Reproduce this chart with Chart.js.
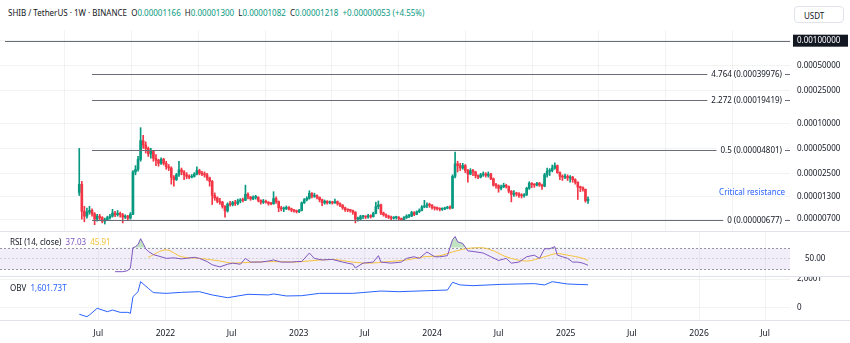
<!DOCTYPE html>
<html>
<head>
<meta charset="utf-8">
<script src="https://cdn.jsdelivr.net/npm/chart.js@4.4.1/dist/chart.umd.min.js"></script>
<style>
  body { margin: 0; width: 850px; height: 343px; background: #fff; overflow: hidden; position: relative; font-family: "Noto Sans", sans-serif; }
  canvas { position: absolute; left: 0; }
  .txt { position: absolute; font-size: 8px; color: #131722; white-space: pre; line-height: 10px; }
  .sep { position: absolute; left: 0; width: 850px; height: 1px; background: #e0e3eb; }
  #usdt { position: absolute; left: 794px; top: 6px; width: 50px; height: 17px; border: 1px solid #e0e3eb; border-radius: 4px; box-sizing: border-box; font-size: 8px; color: #131722; padding: 3px 0 0 9px; }
</style>
</head>
<body>
<div id="header" class="txt" style="left:8px; top:8px;"></div>
<div id="usdt">USDT</div>
<canvas id="priceChart" width="850" height="201" style="top:30px"></canvas>
<canvas id="rsiChart" width="850" height="45" style="top:232px"></canvas>
<canvas id="obvChart" width="850" height="66" style="top:277px"></canvas>
<div class="sep" style="top:231px"></div>
<div class="sep" style="top:276px"></div>
<div class="sep" style="top:320px"></div>
<div id="rsiLegend" class="txt" style="left:10px; top:237px;"></div>
<div id="obvLegend" class="txt" style="left:10px; top:283px;"></div>
<script>
// SHIB / USDT weekly candles, prices in micro-USDT (x 1e-6), first week 2021-05-10
const UNIT = 1e-6;
const startDate = '2021-05-10';

const opens = [
  14.7, 18.4, 8.7, 7.6, 8.5, 8.9, 8.1, 7.0, 7.6, 7.3,
  6.6, 6.9, 7.3, 7.6, 8.3, 7.9, 8.2, 7.9, 7.4, 7.6,
  7.2, 8.0, 26.0, 27.9, 36.8, 62, 55, 50, 43, 46,
  38, 36, 33, 37, 33, 30, 29, 22.4, 21, 24,
  27.5, 26, 24, 23, 22.5, 23, 24.5, 27, 25, 24.5,
  24, 22, 20, 13.5, 12.6, 11.5, 11.2, 10.0, 8.8, 10.6,
  10.5, 11.1, 10.8, 11.6, 11.9, 11.8, 14.0, 12.9, 12.3, 12.8,
  12.9, 11.8, 11.2, 11.5, 11.2, 10.8, 10.7, 12.4, 11.4, 9.6,
  9.3, 9.4, 9.7, 9.3, 9.0, 8.8, 8.6, 8.9, 11.0, 12.0,
  12.5, 14.3, 13.2, 13.5, 12.8, 12.0, 11.0, 11.5, 11.0, 11.2,
  11.0, 11.4, 10.8, 10.3, 9.6, 9.1, 9.0, 8.9, 8.5, 7.0,
  7.0, 7.5, 7.5, 7.4, 7.7, 7.5, 8.2, 9.9, 10.4, 8.3,
  7.9, 7.6, 7.4, 7.2, 7.3, 7.3, 7.1, 6.9, 7.3, 7.6,
  7.6, 8.4, 8.0, 8.6, 8.9, 9.8, 10.1, 10.4, 10.3, 9.7,
  9.5, 9.4, 9.2, 9.3, 9.5, 9.7, 9.5, 23.0, 32.5, 31,
  29, 31, 27, 24.5, 27, 26, 23.5, 22.5, 24, 24.5,
  23.6, 24.5, 21.5, 18, 17.8, 16.5, 17.2, 17.9, 17.3, 15.2,
  13.9, 14.2, 14.1, 13.5, 13.4, 13.7, 16.5, 19.0, 18.3, 18.0,
  19.0, 18.0, 17.5, 24.0, 26.5, 27, 29, 31, 25.5, 23.0,
  22.5, 23.0, 22.0, 22.5, 21.0, 19.5, 17.0, 16.8, 16.0, 11.66
];
const highs = [
  50, 20, 10.0, 9.5, 10.0, 9.3, 8.4, 8.0, 8.0, 7.5,
  7.2, 7.6, 8.0, 9.2, 8.7, 8.9, 8.5, 8.2, 7.9, 7.8,
  8.4, 27, 31, 40, 89, 72, 60, 52, 50, 47,
  42, 37, 38.5, 38, 35, 32, 30, 23.5, 25, 35,
  29, 27, 25.5, 24, 24.2, 25.5, 30, 28, 26.5, 26,
  25, 22.5, 20.5, 14.5, 13, 12.5, 11.5, 10.2, 11, 11.5,
  11.5, 11.8, 12.2, 12.4, 12.6, 18.0, 14.5, 13.2, 13.4, 13.6,
  13.0, 12.0, 12.1, 11.9, 11.4, 11.2, 15.0, 13.0, 11.6, 10.0,
  9.8, 10.1, 9.9, 9.5, 9.2, 9.0, 9.2, 11.3, 12.4, 13.0,
  15.4, 14.6, 14.4, 13.8, 13.0, 12.2, 11.9, 11.7, 11.6, 11.5,
  12.2, 11.6, 11.0, 10.5, 9.8, 9.3, 9.2, 9.0, 8.6, 7.4,
  7.8, 7.8, 7.7, 8.0, 7.9, 8.5, 11.2, 11.6, 10.6, 8.5,
  8.1, 7.8, 7.6, 7.5, 7.6, 7.5, 7.2, 7.5, 7.9, 8.0,
  8.7, 8.6, 8.8, 9.3, 10.2, 11.8, 11.0, 10.9, 10.5, 9.9,
  9.8, 9.6, 9.6, 9.8, 10.0, 10.1, 24, 45, 35, 33,
  33, 32, 28, 28.5, 28, 26.5, 24, 25, 26, 25.5,
  26, 25, 22, 19, 18.2, 18, 19, 18.5, 17.6, 15.5,
  15.5, 14.8, 14.6, 14.2, 14.2, 17.0, 19.8, 19.3, 18.8, 19.5,
  19.4, 18.5, 25, 29, 28.5, 31.5, 33.5, 31.5, 26, 24,
  24.5, 24, 23.5, 23, 21.5, 19.8, 17.5, 17.2, 16.2, 13.0
];
const lows = [
  13.5, 7.0, 6.5, 7.2, 8.0, 7.6, 6.0, 6.6, 6.9, 6.3,
  6.1, 6.7, 7.0, 7.4, 7.5, 7.6, 7.4, 6.3, 7.1, 6.9,
  7.0, 7.9, 24, 26.5, 35, 50, 44, 40, 38, 35,
  31, 30.5, 32, 31.5, 28, 27, 18.5, 17.5, 20.5, 23,
  24, 21, 21.5, 21.5, 22, 22.5, 24, 24, 23.5, 22.5,
  20.5, 17.5, 10.5, 11.8, 11, 10.5, 9.5, 7.4, 8.5, 10.0,
  10.1, 10.2, 10.4, 11.0, 11.3, 11.7, 12.3, 11.8, 12.0, 12.2,
  11.3, 10.6, 10.8, 10.9, 10.3, 10.4, 10.6, 10.8, 8.6, 8.8,
  8.6, 9.1, 9.0, 8.6, 8.5, 8.3, 8.4, 8.8, 10.8, 11.6,
  12.2, 12.6, 12.8, 12.3, 11.3, 10.2, 10.6, 10.6, 10.7, 10.6,
  10.8, 10.3, 9.9, 9.2, 8.7, 8.6, 8.5, 8.0, 6.3, 6.6,
  6.9, 7.1, 7.1, 7.2, 7.2, 7.4, 8.1, 9.3, 7.9, 7.6,
  7.3, 7.1, 6.9, 7.0, 7.0, 6.8, 6.7, 6.8, 7.1, 7.3,
  7.5, 7.7, 7.9, 8.4, 8.8, 9.6, 9.6, 9.7, 9.2, 9.0,
  9.0, 8.8, 8.9, 9.1, 9.3, 9.2, 9.4, 22, 26, 27,
  28, 25.5, 19.5, 24, 23.5, 22, 21.5, 22, 23, 22.5,
  22.5, 21, 17.5, 16.5, 14.8, 15.8, 16.8, 16.6, 14.5, 11.3,
  13.2, 13.3, 12.8, 12.6, 12.9, 13.5, 16.0, 16.8, 16.9, 17.6,
  17.4, 16.0, 17.2, 22.5, 23.5, 26, 28, 25, 21, 20.5,
  21.5, 20.5, 19.5, 19.5, 18.5, 12.1, 15.0, 15.2, 11.2, 10.82
];
const closes = [
  18.4, 8.7, 7.6, 8.5, 8.9, 8.1, 7.0, 7.6, 7.3, 6.6,
  6.9, 7.3, 7.6, 8.3, 7.9, 8.2, 7.9, 7.4, 7.6, 7.2,
  8.0, 26.0, 27.9, 36.8, 62, 55, 50, 43, 46, 38,
  36, 33, 37, 33, 30, 29, 22.4, 21, 24, 27.5,
  26, 24, 23, 22.5, 23, 24.5, 27, 25, 24.5, 24,
  22, 20, 13.5, 12.6, 11.5, 11.2, 10.0, 8.8, 10.6, 10.5,
  11.1, 10.8, 11.6, 11.9, 11.8, 14.0, 12.9, 12.3, 12.8, 12.9,
  11.8, 11.2, 11.5, 11.2, 10.8, 10.7, 12.4, 11.4, 9.6, 9.3,
  9.4, 9.7, 9.3, 9.0, 8.8, 8.6, 8.9, 11.0, 12.0, 12.5,
  14.3, 13.2, 13.5, 12.8, 12.0, 11.0, 11.5, 11.0, 11.2, 11.0,
  11.4, 10.8, 10.3, 9.6, 9.1, 9.0, 8.9, 8.5, 7.0, 7.0,
  7.5, 7.5, 7.4, 7.7, 7.5, 8.2, 9.9, 10.4, 8.3, 7.9,
  7.6, 7.4, 7.2, 7.3, 7.3, 7.1, 6.9, 7.3, 7.6, 7.6,
  8.4, 8.0, 8.6, 8.9, 9.8, 10.1, 10.4, 10.3, 9.7, 9.5,
  9.4, 9.2, 9.3, 9.5, 9.7, 9.5, 23.0, 32.5, 31, 29,
  31, 27, 24.5, 27, 26, 23.5, 22.5, 24, 24.5, 23.6,
  24.5, 21.5, 18, 17.8, 16.5, 17.2, 17.9, 17.3, 15.2, 13.9,
  14.2, 14.1, 13.5, 13.4, 13.7, 16.5, 19.0, 18.3, 18.0, 19.0,
  18.0, 17.5, 24.0, 26.5, 27, 29, 31, 25.5, 23.0, 22.5,
  23.0, 22.0, 22.5, 21.0, 19.5, 17.0, 16.8, 16.0, 11.65, 12.18
];

const rsiWeeks = [14,17,19,20,21,22,23,24,25,26,27,29,32,34,37,40,42,45,47,50,52,55,58,60,63,65,67,71,74,76,79,83,85,87,90,92,95,99,103,107,108,111,115,117,118,122,126,128,131,133,136,139,141,144,146,147,148,150,152,154,158,161,164,167,169,172,175,178,180,182,184,186,187,189,191,193,195,197,199];
const rsiValues = [25,25,27,32,70,72,76,87,78,68,63,57,53,50,51,49,50,52,50,44,38,34,39,41,39,50,43,43,45,47,43,43,44,44,60,50,47,48,43,39,32,41,43,55,43,41,43,50,53,50,62,53,53,55,85,91,81,78,64,63,60,53,46,50,41,43,53,56,50,68,68,72,56,53,50,43,43,41,37.03];
const maWeeks = [27,34,40,47,55,60,68,76,84,87,99,107,113,121,128,135,141,146,151,157,161,167,175,182,187,191,197,199];
const maValues = [52,66,53,50,45,41,43,44,43,44,48,43,41,44,47,53,55,62,68,70,66,53,45,53,59,56,50,45.91];

// OBV in trillions
const obvWeeks = [0,3,4,7,11,13,16,19,20,21,23,24,27,29,34,40,47,52,58,66,74,76,81,87,94,107,118,125,144,146,149,154,165,178,182,185,191,199];
const obvValues = [-430,-600,-480,-20,-255,-140,-300,-300,-370,780,1125,1815,1355,1060,1010,1080,1125,900,710,945,900,970,830,850,1010,1010,1170,1125,1240,1770,1590,1540,1630,1680,1590,1815,1655,1601.73];

// Fibonacci levels and other drawings
const fibRatios = ['4.764', '2.272', '0.5', '0'];
const fibPrices = [0.00039976, 0.00019419, 0.00004801, 0.00000677];
const fibStartWeek = 5;
const hLinePrice = 0.001;
const noteText = 'Critical resistance';
const notePrice = 0.0000147;

// axis ticks
const priceTicks = [0.001, 0.0005, 0.00025, 0.0001, 0.00005, 0.000025, 0.000013, 0.000007];
const timeTickLabels = ['Jul', '2022', 'Jul', '2023', 'Jul', '2024', 'Jul', '2025', 'Jul', '2026', 'Jul'];
const timeTickDates = ['2021-07-01', '2022-01-01', '2022-07-01', '2023-01-01', '2023-07-01', '2024-01-01', '2024-07-01', '2025-01-01', '2025-07-01', '2026-01-01', '2026-07-01'];

const UP = '#089981', DOWN = '#f23645';
const TEXT = '#131722';
const GRID = 'rgba(42,46,57,0.06)';
const FONT = { family: 'Noto Sans', size: 8 };

function weekOf(d) { return (Date.parse(d) - Date.parse(startDate)) / (7 * 86400000); }
const timeTicks = timeTickDates.map(weekOf);
const X_MIN = -31, X_MAX = 278;

function xScale(showLabels) {
  return {
    type: 'linear', min: X_MIN, max: X_MAX, bounds: 'data', offset: false,
    afterBuildTicks: s => { s.ticks = timeTicks.map(v => ({ value: v })); },
    ticks: { display: showLabels, autoSkip: false, maxRotation: 0, color: TEXT, font: { family: 'Noto Sans', size: 8.5 }, padding: 8,
             callback: (v, i) => timeTickLabels[i] },
    grid: { color: GRID, drawTicks: false },
    border: { display: false },
    afterFit: s => { s.height = showLabels ? 23 : 0; s.paddingLeft = 0; s.paddingRight = 0; }
  };
}
function yScale(extra) {
  return Object.assign({
    position: 'right', bounds: 'data',
    grid: { color: GRID, drawTicks: false },
    border: { display: false },
    afterFit: s => { s.width = 60; s.paddingTop = 0; s.paddingBottom = 0; }
  }, extra);
}
const baseOptions = {
  responsive: false, animation: false, devicePixelRatio: 1,
  layout: { padding: 0 },
  plugins: { legend: { display: false }, tooltip: { enabled: false } },
  events: []
};

// header
const n = closes.length - 1;
const chg = closes[n] - closes[n - 1];
const g = s => '<span style="color:' + UP + '">' + s + '</span>';
document.getElementById('header').innerHTML =
  'SHIB / TetherUS · 1W · BINANCE  O' + g((opens[n] * UNIT).toFixed(8)) +
  '  H' + g((highs[n] * UNIT).toFixed(8)) +
  '  L' + g((lows[n] * UNIT).toFixed(8)) +
  '  C' + g((closes[n] * UNIT).toFixed(8)) +
  '  ' + g('+' + (chg * UNIT).toFixed(8) + ' (+' + (chg / closes[n - 1] * 100).toFixed(2) + '%)');
document.getElementById('rsiLegend').innerHTML = 'RSI (14, close)  <span style="color:#7e57c2">' +
  rsiValues[rsiValues.length - 1].toFixed(2) + '</span>  <span style="color:#f5c13b">' + maValues[maValues.length - 1].toFixed(2) + '</span>';
document.getElementById('obvLegend').innerHTML = 'OBV  <span style="color:#2962ff">' +
  obvValues[obvValues.length - 1].toLocaleString('en-US', { minimumFractionDigits: 2 }) + 'T</span>';

// price pane
const candleColors = closes.map((c, i) => c >= opens[i] ? UP : DOWN);
const wickData = closes.map((c, i) => ({ x: i, y: [lows[i] * UNIT, highs[i] * UNIT] }));
const bodyData = closes.map((c, i) => ({ x: i, y: [opens[i] * UNIT, c * UNIT] }));

const drawingsPlugin = {
  id: 'drawings',
  afterDatasetsDraw(chart) {
    const { ctx, chartArea: a, scales: { x, y } } = chart;
    ctx.save();
    ctx.strokeStyle = '#6a6d78';
    ctx.lineWidth = 1.2;
    // horizontal line
    const hy = Math.round(y.getPixelForValue(hLinePrice)) + 0.5;
    ctx.beginPath(); ctx.moveTo(a.left + 5, hy); ctx.lineTo(a.right, hy); ctx.stroke();
    // fib levels
    ctx.font = '8px "Noto Sans"';
    ctx.textBaseline = 'middle';
    ctx.textAlign = 'right';
    const x0 = x.getPixelForValue(fibStartWeek);
    fibPrices.forEach((p, k) => {
      const py = Math.round(y.getPixelForValue(p)) + 0.5;
      ctx.beginPath(); ctx.moveTo(x0, py); ctx.lineTo(a.right, py); ctx.stroke();
      const label = fibRatios[k] + ' (' + p.toFixed(8) + ')';
      const w = ctx.measureText(label).width;
      ctx.fillStyle = '#fff';
      ctx.fillRect(a.right - 8 - w - 4, py - 5, w + 7, 10);
      ctx.fillStyle = TEXT;
      ctx.fillText(label, a.right - 8, py);
    });
    ctx.fillStyle = '#2962ff';
    ctx.fillText(noteText, a.right - 5, y.getPixelForValue(notePrice));
    ctx.restore();
  },
  afterDraw(chart) {
    const { ctx, chartArea: a, scales: { y } } = chart;
    const py = y.getPixelForValue(hLinePrice);
    ctx.save();
    ctx.fillStyle = '#131722';
    ctx.fillRect(a.right + 3, py - 6, 55, 12);
    ctx.fillStyle = '#fff';
    ctx.font = '8px "Noto Sans"';
    ctx.textBaseline = 'middle';
    ctx.fillText(hLinePrice.toFixed(8), a.right + 7, py + 0.5);
    ctx.restore();
  }
};

new Chart(document.getElementById('priceChart'), {
  type: 'bar',
  data: {
    datasets: [
      { data: wickData, backgroundColor: candleColors, barThickness: 1, grouped: false, borderWidth: 0 },
      { data: bodyData, backgroundColor: candleColors, barThickness: 2, grouped: false, borderWidth: 0, minBarLength: 1 }
    ]
  },
  options: Object.assign({}, baseOptions, {
    scales: {
      x: xScale(false),
      y: yScale({
        type: 'logarithmic', min: 5.03e-6, max: 1.346e-3,
        afterBuildTicks: s => { s.ticks = priceTicks.map(v => ({ value: v })); },
        ticks: { color: TEXT, font: FONT, padding: 7, callback: v => Number(v).toFixed(8) }
      })
    }
  }),
  plugins: [drawingsPlugin]
});

// RSI pane
const rsiBandPlugin = {
  id: 'rsiBand',
  beforeDatasetsDraw(chart) {
    const { ctx, chartArea: a, scales: { y } } = chart;
    const y70 = Math.round(y.getPixelForValue(70)) + 0.5, y30 = Math.round(y.getPixelForValue(30)) + 0.5, y50 = Math.round(y.getPixelForValue(50)) + 0.5;
    ctx.save();
    ctx.fillStyle = 'rgba(126,87,194,0.1)';
    ctx.fillRect(a.left, y70, a.right - a.left, y30 - y70);
    ctx.strokeStyle = '#9598a1';
    ctx.lineWidth = 1;
    ctx.setLineDash([2, 2]);
    [y70, y30].forEach(py => { ctx.beginPath(); ctx.moveTo(a.left, py); ctx.lineTo(a.right, py); ctx.stroke(); });
    ctx.strokeStyle = 'rgba(149,152,161,0.35)';
    ctx.beginPath(); ctx.moveTo(a.left, y50); ctx.lineTo(a.right, y50); ctx.stroke();
    ctx.restore();
  }
};
new Chart(document.getElementById('rsiChart'), {
  type: 'line',
  data: {
    datasets: [
      { data: rsiWeeks.map((w, i) => ({ x: w, y: rsiValues[i] })), borderColor: '#7e57c2', borderWidth: 1, pointRadius: 0,
        fill: { target: { value: 70 }, above: 'rgba(76,175,80,0.35)', below: 'rgba(0,0,0,0)' } },
      { data: maWeeks.map((w, i) => ({ x: w, y: maValues[i] })), borderColor: '#f5c13b', borderWidth: 1, pointRadius: 0,
        cubicInterpolationMode: 'monotone' }
    ]
  },
  options: Object.assign({}, baseOptions, {
    scales: {
      x: xScale(false),
      y: yScale({
        type: 'linear', min: 15, max: 99.5,
        afterBuildTicks: s => { s.ticks = [{ value: 50 }]; },
        ticks: { color: TEXT, font: FONT, padding: 7, callback: v => Number(v).toFixed(2) },
        grid: { display: false }
      })
    }
  }),
  plugins: [rsiBandPlugin]
});

// OBV pane
new Chart(document.getElementById('obvChart'), {
  type: 'line',
  data: {
    datasets: [
      { data: obvWeeks.map((w, i) => ({ x: w, y: obvValues[i] })), borderColor: '#2962ff', borderWidth: 1, pointRadius: 0 }
    ]
  },
  options: Object.assign({}, baseOptions, {
    scales: {
      x: xScale(true),
      y: yScale({
        type: 'linear', min: -828, max: 2138,
        afterBuildTicks: s => { s.ticks = [{ value: 2000 }, { value: 0 }]; },
        ticks: { color: TEXT, font: FONT, padding: 7, callback: v => v === 0 ? '0' : Number(v).toLocaleString('en-US') + 'T' }
      })
    }
  })
});
</script>
</body>
</html>
